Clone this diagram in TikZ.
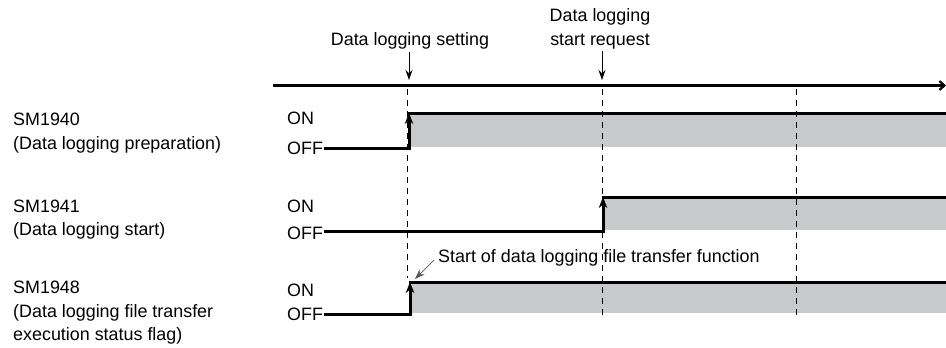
\documentclass[tikz,border=0pt]{standalone}
\usepackage{fontspec}
\setmainfont{Liberation Sans}
\usepackage{xcolor}
\usetikzlibrary{arrows.meta,positioning,calc}
\definecolor{bandgray}{RGB}{200,201,203}
\definecolor{calloutgray}{RGB}{85,85,85}

\begin{document}
\begin{tikzpicture}[
    x=1pt, y=-1pt,
    font=\fontsize{17.9}{23.5}\selectfont,
    signame/.style={anchor=west, align=left, inner sep=0pt},
    lvl/.style={inner sep=0pt},
    sig/.style={line width=3pt, line cap=rect},
    rise/.style={line width=3pt, -{Stealth[length=11pt,width=8.5pt]}},
    band/.style={fill=bandgray, draw=none},
    guide/.style={line width=1pt, dash pattern=on 6pt off 5pt},
    pointer/.style={line width=1pt, -{Stealth[length=10pt,width=7pt]}},
    >=Stealth,
    ]
\useasboundingbox (0,0) rectangle (946,348);

% time axis and events
\coordinate (t0) at (273,85.5);
\coordinate (t1) at (946,85.5);
\draw[line width=2.2pt, -{Straight Barb[length=5pt,width=9pt]}] (t0) -- (t1);

\node[inner sep=2pt] (setting) at (410,41) {Data logging setting};
\node[inner sep=2pt, align=center] (request) at (600,29) {Data logging\\start request};
\coordinate (ev1) at (409,80);
\coordinate (ev2) at (602,80);
\draw[pointer] (setting.south -| ev1) -- (ev1);
\draw[pointer] (request.south -| ev2) -- (ev2);

% signal names
\node[signame] (sm40) at (13,133) {SM1940\\(Data logging preparation)};
\node[signame] (sm41) at (13,219.5) {SM1941\\(Data logging start)};
\node[signame] (sm48) at (13,313) {SM1948\\(Data logging file transfer\\execution status flag)};

\node[lvl, anchor=west] (on1) at (287,118) {ON};
\node[lvl, anchor=west] (off1) at (287,148) {OFF};
\node[lvl, anchor=west] (on2) at (287,206) {ON};
\node[lvl, anchor=west] (off2) at (287,233) {OFF};
\node[lvl, anchor=west] (on3) at (287,290) {ON};
\node[lvl, anchor=west] (off3) at (287,314) {OFF};

% rising edges
\coordinate (r1) at (409,148);  \coordinate (h1) at (409,113);
\coordinate (r2) at (603,231);  \coordinate (h2) at (603,197);
\coordinate (r3) at (410,314);  \coordinate (h3) at (410,282);

\fill[band] (h1) rectangle (946,147);
\fill[band] (h2) rectangle (946,230);
\fill[band] (h3) rectangle (946,313);

% guides
\draw[guide] (407,89) -- (407,278);
\draw[guide] (602,89) -- (602,315);
\draw[guide] (796,89) -- (796,315);

\draw[sig] ([xshift=2pt]off1.east |- r1) -- (r1);
\draw[sig] (h1) -- (946,113);
\draw[rise] (r1) -- (h1);

\draw[sig] ([xshift=2pt]off2.east |- r2) -- (r2);
\draw[sig] (h2) -- (946,197);
\draw[rise] (r2) -- (h2);

\draw[sig] ([xshift=2pt]off3.east |- r3) -- (r3);
\draw[sig] (h3) -- (946,282);
\draw[rise] (r3) -- (h3);

\node[anchor=west, inner sep=0pt] (xfer) at (438,258) {Start of data logging file transfer function};
\draw[pointer, calloutgray, line width=0.7pt] ([xshift=-4pt, yshift=-2pt]xfer.west) -- ([xshift=5pt, yshift=3pt]h3);
\end{tikzpicture}
\end{document}
